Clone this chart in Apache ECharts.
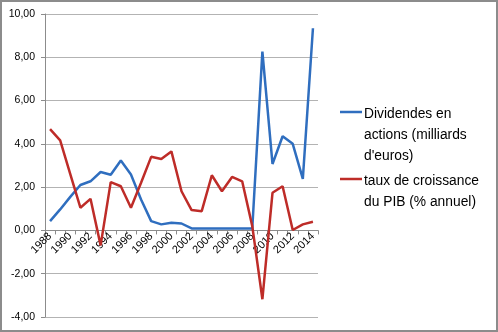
<!DOCTYPE html>
<html><head><meta charset="utf-8">
<script src="https://cdn.jsdelivr.net/npm/echarts@6/dist/echarts.min.js"></script>
<style>html,body{margin:0;padding:0;background:#fff}#c{width:498px;height:332px}</style>
</head><body><div id="c"></div>
<script>
const years = ['1988','1989','1990','1991','1992','1993','1994','1995','1996','1997','1998','1999','2000','2001','2002','2003','2004','2005','2006','2007','2008','2009','2010','2011','2012','2013','2014'];
const dividendes = [0.43,0.97,1.55,2.10,2.27,2.70,2.57,3.23,2.58,1.43,0.43,0.28,0.35,0.32,0.09,0.09,0.09,0.09,0.09,0.09,0.09,8.26,3.07,4.35,4.00,2.38,9.34];
const croissance = [4.68,4.16,2.60,1.05,1.46,-0.69,2.23,2.04,1.05,2.20,3.40,3.30,3.65,1.81,0.94,0.89,2.55,1.81,2.47,2.27,0.20,-3.18,1.74,2.04,0.02,0.28,0.40];
const names = ["Dividendes en\nactions (milliards\nd'euros)", "taux de croissance\ndu PIB (% annuel)"];
const colors = ['#2F6EBF', '#BE2C28'];
const yTicks = {min: -4, max: 10, interval: 2};

const font = 'Liberation Sans, Arial, sans-serif';
const gridTop = 14, gridBottom = 15, H = 332;
const plotH = H - gridTop - gridBottom;
const zeroOffset = -plotH * (0 - yTicks.min) / (yTicks.max - yTicks.min);

const legendTops = [104, 171];
const legendGraphics = [];
names.forEach((n, i) => {
  legendGraphics.push({type: 'line', shape: {x1: 340, y1: legendTops[i] + 8, x2: 362, y2: legendTops[i] + 8}, style: {stroke: colors[i], lineWidth: 2.5}});
  legendGraphics.push({type: 'text', left: 364, top: legendTops[i], style: {text: n, fill: '#000', font: '13.8px ' + font, lineHeight: 21}});
});
legendGraphics.push({type: 'rect', shape: {x: 1, y: 1, width: 496, height: 330}, style: {fill: 'none', stroke: '#8c8c8c', lineWidth: 2}});

const chart = echarts.init(document.getElementById('c'));
chart.setOption({
  animation: false,
  backgroundColor: '#fff',
  grid: {left: 45, right: 180, top: gridTop, bottom: gridBottom, containLabel: false},
  xAxis: {
    type: 'category', data: years, boundaryGap: true, position: 'bottom', offset: zeroOffset,
    axisLine: {onZero: false, lineStyle: {color: '#8c8c8c', width: 1}},
    axisTick: {show: true, length: 4, lineStyle: {color: '#8c8c8c'}, interval: 0},
    axisLabel: {rotate: 45, interval: 1, color: '#000', fontSize: 11, fontFamily: font, margin: 4},
    splitLine: {show: false}
  },
  yAxis: {
    type: 'value', min: yTicks.min, max: yTicks.max, interval: yTicks.interval,
    axisLine: {show: true, lineStyle: {color: '#8c8c8c'}},
    axisTick: {show: true, length: 4, lineStyle: {color: '#8c8c8c'}},
    axisLabel: {color: '#000', fontSize: 10.5, fontFamily: font, margin: 10,
      formatter: v => v.toFixed(2).replace('.', ',')},
    splitLine: {lineStyle: {color: '#b3b3b3', width: 1}}
  },
  series: [
    {name: names[0], type: 'line', data: dividendes, symbol: 'none', lineStyle: {color: colors[0], width: 2.5}, itemStyle: {color: colors[0]}},
    {name: names[1], type: 'line', data: croissance, symbol: 'none', lineStyle: {color: colors[1], width: 2.5}, itemStyle: {color: colors[1]}}
  ],
  graphic: legendGraphics
});
</script></body></html>
